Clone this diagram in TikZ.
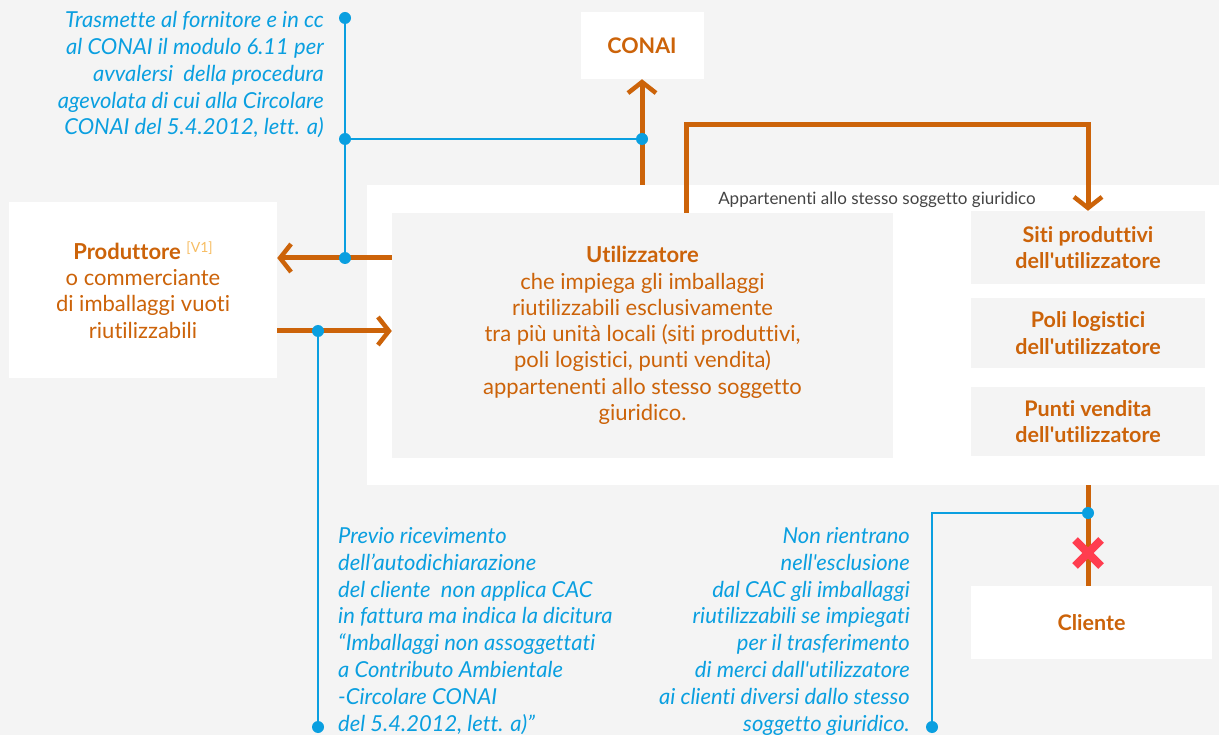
\documentclass[tikz,border=0pt]{standalone}
\usepackage{fontspec}
\setmainfont[Ligatures={TeXOff,CommonOff}]{Lato}
\usetikzlibrary{arrows.meta}
\definecolor{bg}{HTML}{F4F4F4}
\definecolor{org}{HTML}{CC6309}
\definecolor{blu}{HTML}{0A9FE0}
\definecolor{rx}{HTML}{FF3D4F}
\definecolor{lor}{HTML}{F7BD62}
\definecolor{gtx}{HTML}{444444}
\begin{document}
\begin{tikzpicture}[x=1pt,y=-1pt,
  wbox/.style={fill=white, draw=none, inner sep=0pt, align=center, text=org},
  gbox/.style={fill=bg, draw=none, inner sep=0pt, align=center, text=org},
  body/.style={font=\fontsize{22}{26.3}\selectfont},
  bbody/.style={font=\bfseries\fontsize{21.5}{26.3}\selectfont},
  oline/.style={draw=org, line width=5pt},
  oarr/.style={oline, -{Straight Barb[length=11pt,width=28pt,line width=4.5pt]}},
  bline/.style={draw=blu, line width=2.8pt},
  dot/.style={circle, fill=blu, inner sep=0pt, minimum size=12pt},
  note/.style={text=blu, font=\itshape\fontsize{22}{26.9}\selectfont, inner sep=0pt},
  redx/.style={draw=rx, line width=8pt}
]
\fill[bg] (0,0) rectangle (1219,735);
\useasboundingbox (0,0) rectangle (1219,735);

% boxes
\node[wbox, minimum width=852pt, minimum height=300pt] (cont) at (793,335) {};
\node[gbox, minimum width=501pt, minimum height=245pt, body] (util) at (642.5,335.5)
  {\textbf{Utilizzatore}\\che impiega gli imballaggi\\riutilizzabili esclusivamente\\tra più unità locali (siti produttivi,\\poli logistici, punti vendita)\\appartenenti allo stesso soggetto\\giuridico.};
\node[wbox, minimum width=123pt, minimum height=67pt, bbody] (conai) at (642,45.5) {CONAI};
\node[wbox, minimum width=268pt, minimum height=176pt, body] (prod) at (143,290)
  {\textbf{Produttore} {\raisebox{7pt}{\textcolor{lor}{\fontsize{14}{14}\selectfont[V1]}}}\\o commerciante\\di imballaggi vuoti\\riutilizzabili};
\node[gbox, minimum width=234pt, minimum height=73pt, bbody] (siti) at (1088,247.5) {Siti produttivi\\dell'utilizzatore};
\node[gbox, minimum width=234pt, minimum height=70pt, bbody] (poli) at (1088,333) {Poli logistici\\dell'utilizzatore};
\node[gbox, minimum width=234pt, minimum height=69pt, bbody] (punti) at (1088,421.5) {Punti vendita\\dell'utilizzatore};
\node[wbox, minimum width=241pt, minimum height=73pt, bbody] (cliente) at (1091.5,622.5) {Cliente};
\node[text=gtx, font=\fontsize{17}{17}\selectfont, inner sep=0pt] (app) at (877,200) {Appartenenti allo stesso soggetto giuridico};

% notes
\node[note, align=right, anchor=north east] (n1) at (324,11) {Trasmette al fornitore e in cc\\al CONAI il modulo 6.11 per\\avvalersi\ \ della procedura\\agevolata di cui alla Circolare\\CONAI del 5.4.2012, lett. a)};
\node[note, align=left, anchor=north west] (n2) at (338,527) {Previo ricevimento\\dell’autodichiarazione\\del cliente\ \ non applica CAC\\in fattura ma indica la dicitura\\“Imballaggi non assoggettati\\a Contributo Ambientale\\-Circolare CONAI\\del 5.4.2012, lett. a)”};
\node[note, align=right, anchor=north east] (n3) at (910,527) {Non rientrano\\nell'esclusione\\dal CAC gli imballaggi\\riutilizzabili se impiegati\\per il trasferimento\\di merci dall'utilizzatore\\ai clienti diversi dallo stesso\\soggetto giuridico.};

% coordinates
\coordinate (b1) at (345,18);
\coordinate (b2) at (345,139);
\coordinate (b3) at (642,139);
\coordinate (b4) at (345,258);
\coordinate (b5) at (318,331);
\coordinate (b6) at (318,727);
\coordinate (b7) at (1088,513);
\coordinate (b8) at (932,727);
\coordinate (xm) at (1088,553);

% orange connectors
\draw[oarr] (cont.north -| conai.south) -- (conai.south);
\draw[oarr] (util.west |- b4) -- (prod.east |- b4);
\draw[oarr] (prod.east |- b5) -- (util.west |- b5);
\draw[oarr] (util.north -| 686,0) -- (686,125) -| (siti.north);
\draw[oline] (cont.south -| siti.south) -- (siti.south |- cliente.north);

% blue connectors
\draw[bline] (b1) -- (b4);
\draw[bline] (b2) -- (b3);
\draw[bline] (b5) -- (b6);
\draw[bline] (b7) -| (b8);
\foreach \c in {b1,b2,b3,b4,b5,b6,b7,b8} \node[dot] at (\c) {};

% red cross
\draw[redx] (xm) +(-13,-13) -- +(13,13);
\draw[redx] (xm) +(-13,13) -- +(13,-13);
\end{tikzpicture}
\end{document}
